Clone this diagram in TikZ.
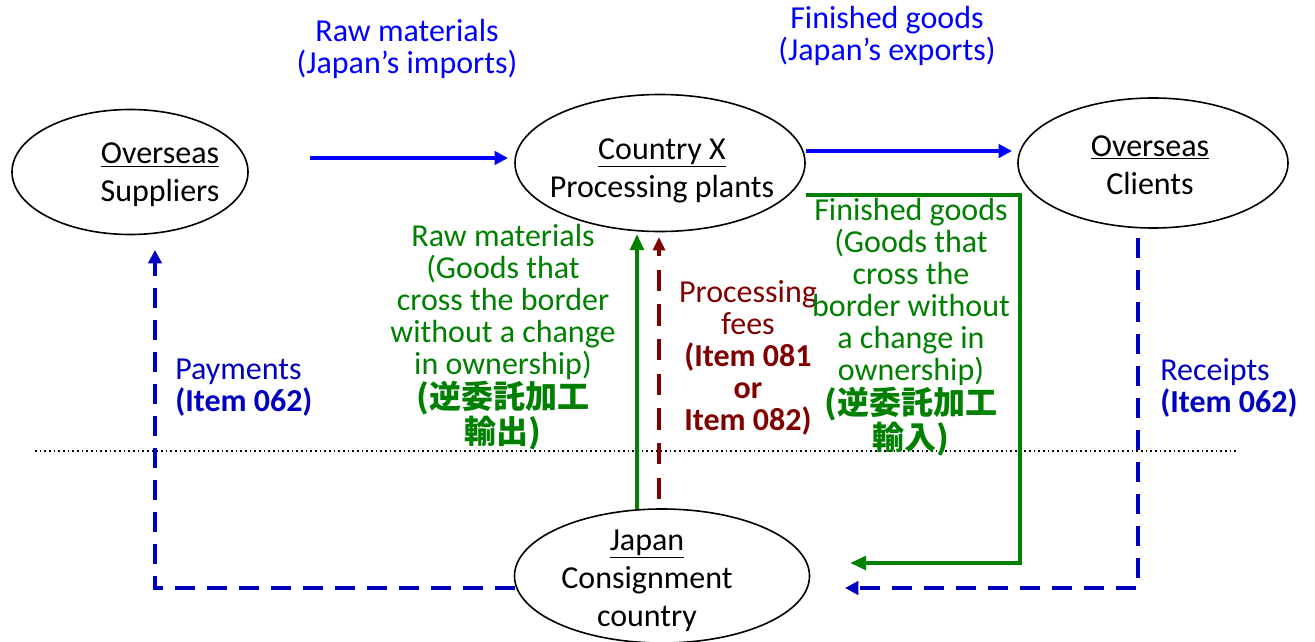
\documentclass[tikz,border=0pt]{standalone}
\usepackage{fontspec}
\setmainfont{Carlito}
\newfontfamily\jpfont{Noto Sans CJK JP}
\usetikzlibrary{shapes.geometric,arrows.meta}
\definecolor{blueT}{HTML}{0000FF}
\definecolor{blueD}{HTML}{0000C0}
\definecolor{greenC}{HTML}{008000}
\definecolor{redC}{HTML}{800000}
\tikzset{
  country/.style={draw=black,line width=1.2pt,ellipse,inner sep=0pt},
  lbl/.style={align=center,inner sep=0pt,font=\fontsize{24}{24}\selectfont},
  inlbl/.style={align=center,inner sep=0pt,font=\fontsize{24}{28.5}\selectfont},
  bluearrow/.style={draw=blueT,line width=3.6pt,-{Triangle[length=10pt,width=10pt]}},
  greenarrow/.style={draw=greenC,line width=3.6pt,-{Triangle[length=12pt,width=10pt]}},
  redarrow/.style={draw=redC,line width=3pt,dash pattern=on 16pt off 10pt,-{Triangle[length=10pt,width=9pt]}},
  bluedash/.style={draw=blueD,line width=3.6pt,dash pattern=on 15pt off 9pt,-{Triangle[length=10pt,width=10pt]}},
}
\begin{document}
\begin{tikzpicture}[x=0.75pt,y=-0.75pt]
\useasboundingbox (0,0) rectangle (1315,642);
% ellipses
\node[country,minimum width=177pt,minimum height=93.75pt] (sup) at (130,172) {};
\node[country,minimum width=217.5pt,minimum height=102.75pt] (cx) at (660,163) {};
\node[country,minimum width=202.5pt,minimum height=97.5pt] (cl) at (1153,163) {};
\node[country,minimum width=221.25pt,minimum height=100.5pt] (jp) at (662,576) {};
% ellipse texts
\node[inlbl] (supt) at (160,175) {\underline{Overseas}\\Suppliers};
\node[inlbl] (cxt) at (662,171) {\underline{Country X}\\Processing plants};
\node[inlbl] (clt) at (1150,165) {\underline{Overseas}\\Clients};
\node[inlbl] (jpt) at (647,581) {\underline{Japan}\\Consignment\\country};
% border line
\coordinate (bl) at (35,451);
\coordinate (br) at (1237,451);
\draw[line width=1.8pt,dash pattern=on 1.2pt off 2.3pt] (bl) -- (br);
% coordinates
\coordinate (a1) at (310,158);
\coordinate (a2) at (508,158);
\coordinate (b1) at (806,151);
\coordinate (b2) at (1012,151);
\coordinate (g1) at (637,509);
\coordinate (g2) at (637,234);
\coordinate (r1) at (659,499);
\coordinate (r2) at (659,237);
\coordinate (f1) at (806,195);
\coordinate (f2) at (1020,195);
\coordinate (f3) at (1020,563);
\coordinate (f4) at (850,563);
\coordinate (p1) at (515,588);
\coordinate (p2) at (155,588);
\coordinate (p3) at (155,250);
\coordinate (q1) at (1138,238);
\coordinate (q2) at (1138,588);
\coordinate (q3) at (845,588);
% arrows
\draw[bluearrow] (a1) -- (a2);
\draw[bluearrow] (b1) -- (b2);
\draw[greenarrow] (g1) -- (g2);
\draw[redarrow] (r1) -- (r2);
\draw[greenarrow] (f1) -- (f2) -- (f3) -- (f4);
\draw[bluedash] (p1) -- (p2) -- (p3);
\draw[bluedash] (q1) -- (q2) -- (q3);
% labels
\node[lbl,text=blueT] (t1) at (407,49) {Raw materials\\(Japan’s imports)};
\node[lbl,text=blueT] (t2) at (887,36) {Finished goods\\(Japan’s exports)};
\node[lbl,text=blueD,align=left,anchor=west] (t3) at (175,388) {Payments\\\textbf{(Item 062)}};
\node[lbl,text=blueD,align=left,anchor=west] (t4) at (1160,388) {Receipts\\\textbf{(Item 062)}};
\node[lbl,text=greenC] (t5) at (503,337) {Raw materials\\(Goods that\\cross the border\\without a change\\in ownership)\\{\jpfont\bfseries (逆委託加工}\\{\jpfont\bfseries 輸出)}};
\node[lbl,text=redC] (t6) at (748,358) {Processing\\fees\\\textbf{(Item 081}\\\textbf{or}\\\textbf{Item 082)}};
\node[lbl,text=greenC] (t7) at (911,327) {Finished goods\\(Goods that\\cross the\\border without\\a change in\\ownership)\\{\jpfont\bfseries (逆委託加工}\\{\jpfont\bfseries 輸入)}};
\end{tikzpicture}
\end{document}
